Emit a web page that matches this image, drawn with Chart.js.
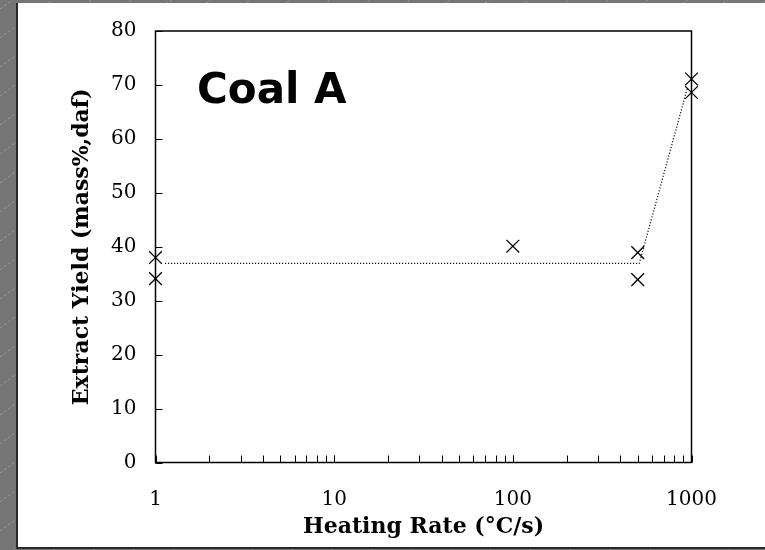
<!DOCTYPE html>
<html>
<head>
<meta charset="utf-8">
<script src="https://cdn.jsdelivr.net/npm/chart.js@4.4.1/dist/chart.umd.min.js"></script>
<style>
  html, body { margin: 0; padding: 0; background: #777; }
  #yieldChart { display: block; }
</style>
</head>
<body>
<canvas id="yieldChart" width="765" height="550"></canvas>
<script>
// measured extract yields vs heating rate
const rateObs = [1, 1, 100, 500, 500, 1000, 1000];
const yieldObs = [38.0, 34.1, 40.1, 38.9, 33.9, 71.1, 68.6];

// hand-drawn trend line
const rateFit = [1.13, 510, 950];
const yieldFit = [36.9, 36.9, 69.5];

const rateTicks = [1, 10, 100, 1000];
const yieldMin = 0;
const yieldMax = 80;
const yieldStep = 10;

const serif = '"DejaVu Serif", "Liberation Serif", serif';

const toPoints = (xs, ys) => xs.map((x, i) => ({ x: x, y: ys[i] }));

// slide background, white panel and the "Coal A" caption
const slideBackground = {
  id: 'slideBackground',
  beforeDraw(chart) {
    const { ctx, width, height } = chart;
    ctx.save();
    ctx.fillStyle = '#767676';
    ctx.fillRect(0, 0, width, height);

    ctx.strokeStyle = 'rgba(190,190,190,0.45)';
    ctx.lineWidth = 1;
    ctx.setLineDash([3, 2]);
    for (let y0 = -600; y0 < height + 600; y0 += 29) {
      ctx.beginPath();
      ctx.moveTo(0, y0);
      ctx.lineTo(width, y0 - width * 0.73);
      ctx.stroke();
    }
    ctx.setLineDash([]);

    ctx.fillStyle = '#ffffff';
    ctx.fillRect(17, 3, width - 17, 545);
    ctx.strokeStyle = '#2a2a2a';
    ctx.lineWidth = 2;
    ctx.beginPath();
    ctx.moveTo(17, 3);
    ctx.lineTo(17, 548);
    ctx.lineTo(width, 548);
    ctx.stroke();
    ctx.restore();
  },
  afterDraw(chart) {
    const { ctx } = chart;
    ctx.save();
    ctx.fillStyle = '#000';
    ctx.font = 'bold 42px "DejaVu Sans", sans-serif';
    ctx.textBaseline = 'alphabetic';
    ctx.fillText('Coal A', 197, 103);
    ctx.restore();
  }
};

// plot frame plus inward tick marks (log minors on x)
const frameTicks = {
  id: 'frameTicks',
  afterDatasetsDraw(chart) {
    const { ctx, chartArea: a, scales } = chart;
    const xs = scales.x, ys = scales.y;
    ctx.save();
    ctx.strokeStyle = '#000';
    ctx.lineWidth = 1.5;
    ctx.strokeRect(a.left, a.top, a.right - a.left, a.bottom - a.top);

    ctx.lineWidth = 1;
    ctx.beginPath();
    for (let d = 1; d < 1000; d *= 10) {
      for (let m = 1; m <= 10; m++) {
        const px = Math.round(xs.getPixelForValue(d * m)) + 0.5;
        ctx.moveTo(px, a.bottom);
        ctx.lineTo(px, a.bottom - 7);
      }
    }
    for (let v = yieldMin; v <= yieldMax; v += yieldStep) {
      const py = Math.round(ys.getPixelForValue(v)) + 0.5;
      ctx.moveTo(a.left, py);
      ctx.lineTo(a.left + 7, py);
    }
    ctx.stroke();
    ctx.restore();
  }
};

new Chart(document.getElementById('yieldChart'), {
  type: 'scatter',
  data: {
    datasets: [
      {
        label: 'Extract yield',
        data: toPoints(rateObs, yieldObs),
        pointStyle: 'crossRot',
        pointRadius: 9,
        pointHoverRadius: 9,
        borderColor: '#000',
        backgroundColor: '#000',
        pointBorderWidth: 1.3,
        showLine: false,
        clip: false
      },
      {
        label: 'Trend',
        data: toPoints(rateFit, yieldFit),
        showLine: true,
        pointRadius: 0,
        borderColor: '#111',
        borderWidth: 1.2,
        borderDash: [1.2, 1.8],
        tension: 0,
        clip: false
      }
    ]
  },
  options: {
    responsive: false,
    devicePixelRatio: 1,
    animation: false,
    layout: { padding: { left: 17, top: 30, right: 73.5, bottom: 0 } },
    plugins: {
      legend: { display: false },
      tooltip: { enabled: false }
    },
    scales: {
      x: {
        type: 'logarithmic',
        min: 1,
        max: 1000,
        afterBuildTicks: (scale) => {
          scale.ticks = rateTicks.map(v => ({ value: v, major: true }));
        },
        afterFit: (scale) => { scale.height = 87.5; },
        grid: { display: false, drawTicks: false },
        border: { display: false },
        ticks: {
          color: '#000',
          padding: 25,
          maxRotation: 0,
          font: { family: serif, size: 20 },
          callback: (v) => String(v)
        },
        title: {
          display: true,
          text: 'Heating Rate (°C/s)',
          color: '#000',
          font: { family: serif, size: 22, weight: 'bold' },
          padding: { top: 0, bottom: 10 }
        }
      },
      y: {
        type: 'linear',
        min: yieldMin,
        max: yieldMax,
        afterFit: (scale) => { scale.width = 138.5; },
        grid: { display: false, drawTicks: false },
        border: { display: false },
        ticks: {
          stepSize: yieldStep,
          color: '#000',
          padding: 19,
          font: { family: serif, size: 20 }
        },
        title: {
          display: true,
          text: 'Extract Yield (mass%,daf)',
          color: '#000',
          font: { family: serif, size: 22, weight: 'bold' },
          padding: { top: 52, bottom: 0 }
        }
      }
    }
  },
  plugins: [slideBackground, frameTicks]
});
</script>
</body>
</html>
